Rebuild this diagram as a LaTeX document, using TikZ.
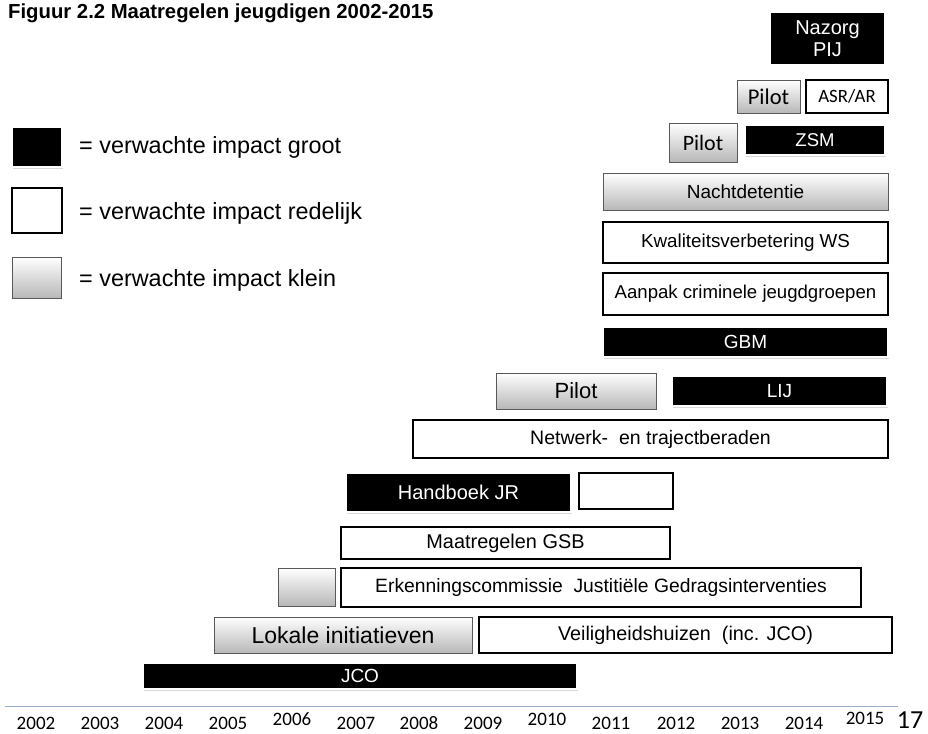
\documentclass[tikz,border=0pt]{standalone}
\usepackage{fontspec}
\setmainfont{Liberation Sans}
\newfontfamily\calfont[Numbers=Lining]{Carlito}
\usetikzlibrary{shadows}
\begin{document}
\begin{tikzpicture}[x=1pt,y=-1pt,
  box/.style={inner sep=0pt, outer sep=0pt, align=center},
  blk/.style={box, fill=black, text=white, draw=white, line width=2.5pt,
    drop shadow={opacity=0.3, shadow xshift=1pt, shadow yshift=-1.5pt}},
  wht/.style={box, fill=white, draw=black, line width=1.6pt},
  gry/.style={box, top color=white, bottom color=black!28, draw=black!65, line width=0.9pt},
  lbl/.style={inner sep=0pt, anchor=base west, font=\fontsize{23.4}{27}\selectfont},
  yr/.style={inner sep=0pt, anchor=base, font=\calfont\fontsize{19}{22}\selectfont}
]
\useasboundingbox (0,0) rectangle (928,733);
\fill[white] (0,0) rectangle (928,733);
% title
\node[inner sep=0pt, anchor=base west, font=\bfseries\fontsize{20.3}{24}\selectfont] (title) at (8,19) {Figuur 2.2 Maatregelen jeugdigen 2002-2015};
% legend
\node[blk, minimum width=50, minimum height=40] (lb) at (37,147) {};
\node[wht, minimum width=50, minimum height=45] (lw) at (37,210.5) {};
\node[gry, minimum width=49, minimum height=41] (lg) at (36.5,277.5) {};
\node[lbl] (tb) at (79,153) {= verwachte impact groot};
\node[lbl] (tw) at (79,219) {= verwachte impact redelijk};
\node[lbl] (tg) at (79,286) {= verwachte impact klein};
% bars
\node[blk, minimum width=115, minimum height=53, font=\fontsize{20}{22.5}\selectfont] (nazorg) at (827.5,38.5) {Nazorg\\PIJ};
\node[gry, minimum width=63, minimum height=33, font=\calfont\fontsize{22.5}{25}\selectfont] (pilotA) at (768.5,96.5) {Pilot};
\node[wht, minimum width=82, minimum height=33, font=\calfont\fontsize{18.8}{21}\selectfont] (asr) at (847,96.5) {ASR/AR};
\node[gry, minimum width=68, minimum height=39, font=\calfont\fontsize{22}{25}\selectfont] (pilotB) at (703,142.5) {Pilot};
\node[blk, minimum width=140, minimum height=30, font=\fontsize{18.5}{21}\selectfont] (zsm) at (815,140) {ZSM};
\node[gry, minimum width=285, minimum height=37, font=\fontsize{19}{22}\selectfont] (nacht) at (745.5,191.5) {Nachtdetentie};
\node[wht, minimum width=285, minimum height=41, font=\fontsize{18.8}{22}\selectfont] (kwal) at (745.5,242.5) {Kwaliteitsverbetering WS};
\node[wht, minimum width=285, minimum height=42, font=\fontsize{18.6}{22}\selectfont] (aanpak) at (745.5,294) {Aanpak criminele jeugdgroepen};
\node[blk, minimum width=285, minimum height=30, font=\fontsize{19}{22}\selectfont] (gbm) at (745.5,342) {GBM};
\node[gry, minimum width=160, minimum height=36, font=\fontsize{22}{25}\selectfont] (pilotC) at (576,391) {Pilot};
\node[blk, minimum width=215, minimum height=30, font=\fontsize{19}{22}\selectfont] (lij) at (779.5,391) {LIJ};
\node[wht, minimum width=475, minimum height=38, font=\fontsize{19.5}{22}\selectfont] (netwerk) at (650.5,439) {Netwerk-\ \ en trajectberaden};
\node[blk, minimum width=225, minimum height=39, font=\fontsize{20}{23}\selectfont] (handboek) at (458.5,492.5) {Handboek JR};
\node[wht, minimum width=94, minimum height=36] (empty) at (626,491) {};
\node[wht, minimum width=329, minimum height=32, font=\fontsize{19.9}{23}\selectfont] (gsb) at (505.5,543) {Maatregelen GSB};
\node[gry, minimum width=57, minimum height=38] (grysmall) at (306.5,587) {};
\node[wht, minimum width=520, minimum height=39, font=\fontsize{19.3}{22}\selectfont] (erk) at (601,587.5) {Erkenningscommissie\ \ Justitiële Gedragsinterventies};
\node[gry, minimum width=258, minimum height=36, font=\fontsize{23}{26}\selectfont] (lokale) at (343,635) {Lokale initiatieven};
\node[wht, minimum width=413, minimum height=36, font=\fontsize{19.8}{23}\selectfont] (veilig) at (685.5,635) {Veiligheidshuizen\ \ (inc. JCO)};
\node[blk, minimum width=434, minimum height=26, font=\fontsize{19}{22}\selectfont] (jco) at (360,676) {JCO};
% axis
\coordinate (axl) at (5,706);
\coordinate (axr) at (898,706);
\draw[line width=1pt, color={rgb,255:red,150;green,175;blue,205}] (axl) -- (axr);
\node[yr] (y2002) at (36,729) {2002};
\node[yr] (y2003) at (100,729) {2003};
\node[yr] (y2004) at (164,729) {2004};
\node[yr] (y2005) at (228,729) {2005};
\node[yr] (y2006) at (292,725) {2006};
\node[yr] (y2007) at (356,729) {2007};
\node[yr] (y2008) at (419,729) {2008};
\node[yr] (y2009) at (483,729) {2009};
\node[yr] (y2010) at (547,725) {2010};
\node[yr] (y2011) at (611,729) {2011};
\node[yr] (y2012) at (676,729) {2012};
\node[yr] (y2013) at (740,729) {2013};
\node[yr] (y2014) at (804,729) {2014};
\node[yr] (y2015) at (865,724) {2015};
\node[inner sep=0pt, anchor=base, font=\calfont\fontsize{26}{29}\selectfont] (pg) at (910,728) {17};
\end{tikzpicture}
\end{document}
